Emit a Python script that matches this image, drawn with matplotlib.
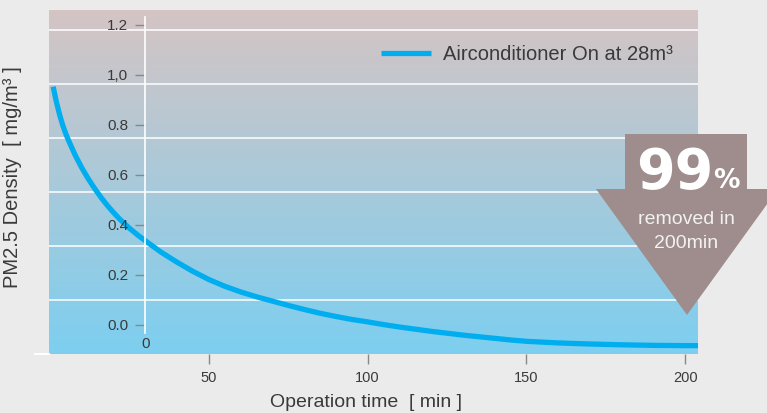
import numpy as np
import matplotlib.pyplot as plt
from matplotlib.patches import Polygon

# values
time_min = [1, 2, 3, 4, 5, 6, 8, 10, 12, 14, 16, 18, 20, 22, 25, 28, 31, 35, 40, 45,
            50, 55, 60, 65, 70, 75, 80, 85, 90, 95, 100, 105, 110, 115, 120, 125,
            130, 135, 140, 145, 150, 160, 170, 180, 190, 200, 204]
pm25 = [0.99, 0.935, 0.888, 0.848, 0.815, 0.787, 0.735, 0.69, 0.65, 0.614, 0.581, 0.551,
        0.524, 0.499, 0.466, 0.437, 0.411, 0.377, 0.34, 0.306, 0.276, 0.251, 0.23, 0.212,
        0.196, 0.18, 0.165, 0.151, 0.139, 0.128, 0.119, 0.109, 0.1, 0.092, 0.084, 0.077,
        0.07, 0.064, 0.058, 0.052, 0.047, 0.041, 0.037, 0.034, 0.032, 0.031, 0.031]
x_ticks = [50, 100, 150, 200]
grid_levels = [0.2, 0.4, 0.6, 0.8, 1.0, 1.2]
fake_ticks = [0.0, 0.2, 0.4, 0.6, 0.8, 1.0, 1.2]
fake_labels = ["0.0", "0.2", "0.4", "0.6", "0.8", "1,0", "1.2"]
series_label = "Airconditioner On at 28m³"

W, H = 767, 413
plt.rcParams['font.family'] = ['Liberation Sans', 'DejaVu Sans']
text_col = '#3a3a3a'
line_col = '#00aeef'
arrow_col = '#9e8d8c'


def fx(x):
    return x / W


def fy(y):
    return 1 - y / H


fig = plt.figure(figsize=(W / 100, H / 100), dpi=100)
fig.patch.set_facecolor('#ebebeb')

ax = fig.add_axes([fx(49), fy(354), (698 - 49) / W, (354 - 10) / H])
ax.set_xlim(-0.3, 204)
ax.set_ylim(0, 1.274)

# vertical gradient background
top = np.array([0.835, 0.77, 0.77])
bottom = np.array([0.49, 0.81, 0.94])
t = np.linspace(0, 1, 256)[:, None]
grad = (top * (1 - t) + bottom * t)[:, None, :]
ax.imshow(grad, extent=[0, 1, 0, 1], transform=ax.transAxes, aspect='auto', zorder=0)

ax.set_yticks(grid_levels)
ax.set_yticklabels([])
ax.tick_params(axis='y', length=0)
ax.grid(axis='y', color='white', lw=1.3, alpha=0.85)
ax.set_axisbelow(True)

ax.set_xticks(x_ticks)
ax.tick_params(axis='x', length=7, width=1, color='#888888', labelcolor=text_col,
               labelsize=10.5, pad=5)
for s in ax.spines.values():
    s.set_visible(False)
ax.plot([-0.022, 0], [0, 0], transform=ax.transAxes, color='white', lw=1.5, clip_on=False)

ax.plot(time_min, pm25, color=line_col, lw=3.8, solid_capstyle='butt',
        solid_joinstyle='round', label=series_label, zorder=3)

ax.set_xlabel("Operation time  [ min ]", fontsize=14, color=text_col)
ax.xaxis.set_label_coords(0.488, -0.115)
ax.set_ylabel("PM2.5 Density  [ mg/m³ ]", fontsize=14.5, color=text_col)
ax.yaxis.set_label_coords(-0.042, 0.515)

leg = ax.legend(loc='center left', bbox_to_anchor=((381 - 49) / 649, (354 - 55) / 344),
                frameon=False, fontsize=14.5, handlelength=2.5, handletextpad=0.6,
                borderpad=0, borderaxespad=0, labelcolor=text_col)

# decorative inner axis
ax2 = fig.add_axes([fx(145), fy(333), 0.0005, (333 - 17) / H])
ax2.patch.set_visible(False)
ax2.set_ylim(-0.032, 1.232)
ax2.set_yticks(fake_ticks)
ax2.set_yticklabels(fake_labels)
ax2.tick_params(axis='y', length=7, width=1, color='#888888', labelcolor=text_col,
                labelsize=11, pad=5)
ax2.set_xticks([0.5])
ax2.set_xticklabels(["0"])
ax2.set_xlim(0, 1)
ax2.tick_params(axis='x', length=0, labelcolor=text_col, labelsize=11, pad=3)
for k, s in ax2.spines.items():
    s.set_visible(k == 'left')
ax2.spines['left'].set_color('white')
ax2.spines['left'].set_linewidth(1.2)

# arrow badge
pts = [(625, 134), (747, 134), (747, 189), (778, 189), (687, 315), (596, 189), (625, 189)]
fig.add_artist(Polygon([(fx(x), fy(y)) for x, y in pts], closed=True,
                       transform=fig.transFigure, facecolor=arrow_col, edgecolor='none'))
fig.text(fx(713), fy(188), "99", ha='right', va='baseline', fontsize=40,
         fontweight='bold', color='white', family='DejaVu Sans')
fig.text(fx(713), fy(188), "%", ha='left', va='baseline', fontsize=19,
         fontweight='bold', color='white', family='DejaVu Sans')
fig.text(fx(686), fy(220), "removed in", ha='center', va='center', fontsize=14, color='#f2f2f2')
fig.text(fx(686), fy(243), "200min", ha='center', va='center', fontsize=14, color='#f2f2f2')

fig.savefig('out.png', dpi=100, facecolor=fig.get_facecolor())
